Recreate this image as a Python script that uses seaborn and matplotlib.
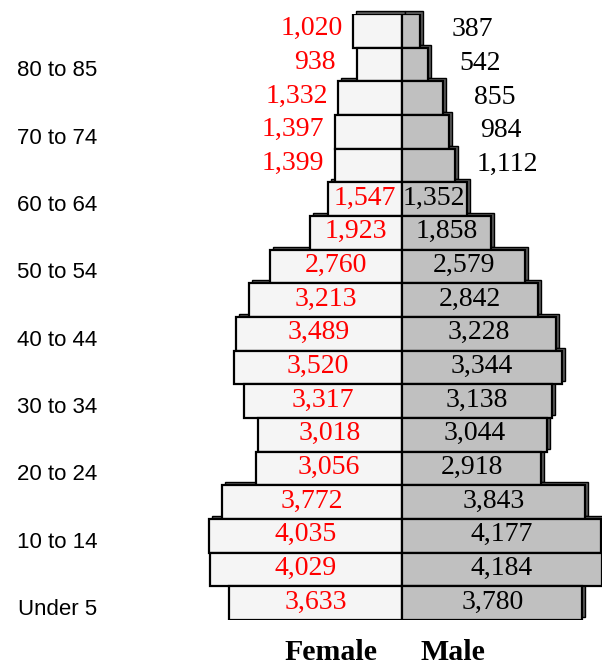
import matplotlib
matplotlib.use("Agg")
import matplotlib.pyplot as plt
import matplotlib.transforms as mtransforms
from matplotlib.patches import Rectangle
import seaborn as sns
import pandas as pd

# ---- data (top row first) ----
age_groups = ["85+", "80 to 84", "75 to 79", "70 to 74", "65 to 69", "60 to 64",
              "55 to 59", "50 to 54", "45 to 49", "40 to 44", "35 to 39", "30 to 34",
              "25 to 29", "20 to 24", "15 to 19", "10 to 14", "5 to 9", "Under 5"]
tick_labels = ["", "80 to 85", "", "70 to 74", "", "60 to 64", "", "50 to 54", "",
               "40 to 44", "", "30 to 34", "", "20 to 24", "", "10 to 14", "", "Under 5"]
female = [1020, 938, 1332, 1397, 1399, 1547, 1923, 2760, 3213, 3489, 3520, 3317,
          3018, 3056, 3772, 4035, 4029, 3633]
male = [387, 542, 855, 984, 1112, 1352, 1858, 2579, 2842, 3228, 3344, 3138,
        3044, 2918, 3843, 4177, 4184, 3780]

df = pd.DataFrame({
    "age": age_groups * 2,
    "sex": ["Female"] * len(age_groups) + ["Male"] * len(age_groups),
    "value": [-v for v in female] + male,
})

sns.set_style("white")
plt.rcParams["font.family"] = ["Liberation Sans", "DejaVu Sans"]
plt.rcParams["text.color"] = "black"
plt.rcParams["ytick.color"] = "black"
plt.rcParams["ytick.labelcolor"] = "black"

fig = plt.figure(figsize=(6.02, 6.65), dpi=100)
ax = fig.add_axes([110 / 602, 45 / 665, 492 / 602, 606 / 665])

sns.barplot(data=df, y="age", x="value", hue="sex", order=age_groups,
            hue_order=["Female", "Male"], dodge=False, width=1.0,
            palette={"Female": "#f5f5f5", "Male": "#c0c0c0"},
            edgecolor="black", linewidth=1.6, legend=False, ax=ax, zorder=2)

# 3D-like shadow behind each bar
offset = mtransforms.ScaledTranslation(3 / 100, 3 / 100, fig.dpi_scale_trans)
for p in list(ax.patches):
    sh = Rectangle(p.get_xy(), p.get_width(), p.get_height(),
                   transform=ax.transData + offset, facecolor="#5a5a5a",
                   edgecolor="black", linewidth=1.0, zorder=1.5, clip_on=False)
    ax.add_patch(sh)

ax.set_xlim(-292 / 0.04772, 200 / 0.04772)
ax.set_ylim(len(age_groups) - 0.5, -0.5)

num_font = dict(family="Liberation Serif", fontsize=20)
for i, (f, m) in enumerate(zip(female, male)):
    if f >= 1500:
        ax.annotate(f"{f:,}", xy=(-f / 2, i), xytext=(0, 1), textcoords="offset pixels",
                    color="red", ha="center", va="center", **num_font)
    else:
        ax.annotate(f"{f:,}", xy=(-f, i), xytext=(-42, 2), textcoords="offset pixels",
                    color="red", ha="center", va="center", **num_font)
    if m >= 1300:
        ax.annotate(f"{m:,}", xy=(m / 2, i), xytext=(0, 1), textcoords="offset pixels",
                    color="black", ha="center", va="center", **num_font)
    else:
        ax.annotate(f"{m:,}", xy=(m, i), xytext=(52, 1), textcoords="offset pixels",
                    color="black", ha="center", va="center", **num_font)

ax.set_yticks(range(len(age_groups)))
ax.set_yticklabels(tick_labels, fontsize=16, color="black")
ax.tick_params(axis="y", length=0, pad=9)
shift = mtransforms.ScaledTranslation(0, -4 / 100, fig.dpi_scale_trans)
for lab in ax.get_yticklabels():
    lab.set_transform(lab.get_transform() + shift)
ax.set_xticks([])
ax.set_xlabel("")
ax.set_ylabel("")
for s in ax.spines.values():
    s.set_visible(False)

fig.text(331 / 602, 1 - 652 / 665, "Female", ha="center", va="center", color="black",
         family="Liberation Serif", fontweight="bold", fontsize=21.5)
fig.text(453 / 602, 1 - 652 / 665, "Male", ha="center", va="center", color="black",
         family="Liberation Serif", fontweight="bold", fontsize=21.5)

fig.savefig("out.png", dpi=100)
